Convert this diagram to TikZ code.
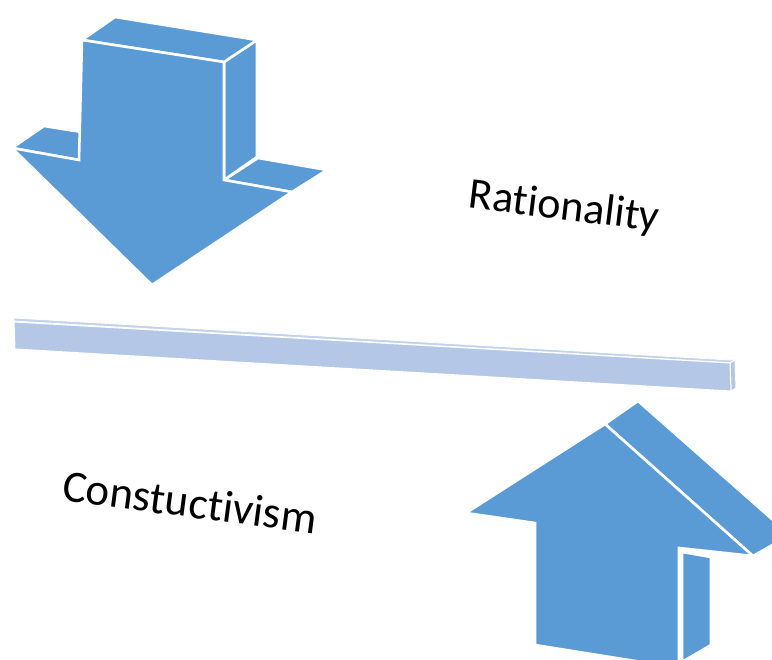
\documentclass[tikz,border=0pt]{standalone}
\usepackage{fontspec}
\setmainfont{Carlito}[Ligatures=NoCommon]
\definecolor{arrowblue}{HTML}{5B9BD5}
\definecolor{barblue}{HTML}{B4C7E7}
\definecolor{bartop}{HTML}{C3D3EC}
\begin{document}
\begin{tikzpicture}[x=1pt,y=-1pt,
  face/.style={fill=arrowblue,draw=white,line width=2.6pt,line join=miter},
  barface/.style={fill=barblue,draw=white,line width=1pt,line join=miter},
  bartopface/.style={fill=bartop,draw=white,line width=0.8pt},
  lbl/.style={font=\fontsize{44}{50}\selectfont,text=black,inner sep=0pt}]
\useasboundingbox (0,0) rectangle (772,660);
\begin{scope}
\clip (0,0) rectangle (772,660);
% ---- down arrow ----
% left wing top face
\path[face] (12,148) -- (44,126) -- (112,137) -- (79,160) -- cycle;
% right wing top face
\path[face] (224,180) -- (258,158) -- (327,170) -- (292,192) -- cycle;
% right side face of shaft
\path[face] (224,62) -- (257,40) -- (257,157) -- (224,180) -- cycle;
% top face
\path[face] (82,40) -- (115,17) -- (257,40) -- (224,62) -- cycle;
% front face
\path[face] (82,40) -- (224,62) -- (224,180) -- (292,192) -- (152,285)
  -- (12,148) -- (79,160) -- cycle;
% ---- bar ----
\path[bartopface] (14,318) -- (730,360) -- (735,360) -- (735,363) -- (14,321) -- cycle;
\path[barface] (730,363) -- (735,360) -- (736,388) -- (731,391) -- cycle;
\path[barface] (14,322) -- (730,363) -- (731,391) -- (15,349) -- cycle;
% ---- up arrow ----
% slanted side face of head
\path[face] (605,424) -- (638,401) -- (790,535) -- (753,556) -- cycle;
% right side face of shaft
\path[face] (682,552) -- (711,557) -- (711,645) -- (682,662) -- cycle;
% front face
\path[face] (605,424) -- (753,556) -- (679,548) -- (679,668) -- (535,645)
  -- (535,523) -- (466,513) -- cycle;
\end{scope}
% ---- labels ----
\node[lbl,rotate=-7] (rat) at (564,208) {Rationality};
\node[lbl,font=\fontsize{45}{50}\selectfont,rotate=-7.5] (con) at (190,502) {Constuctivism};
\end{tikzpicture}
\end{document}
